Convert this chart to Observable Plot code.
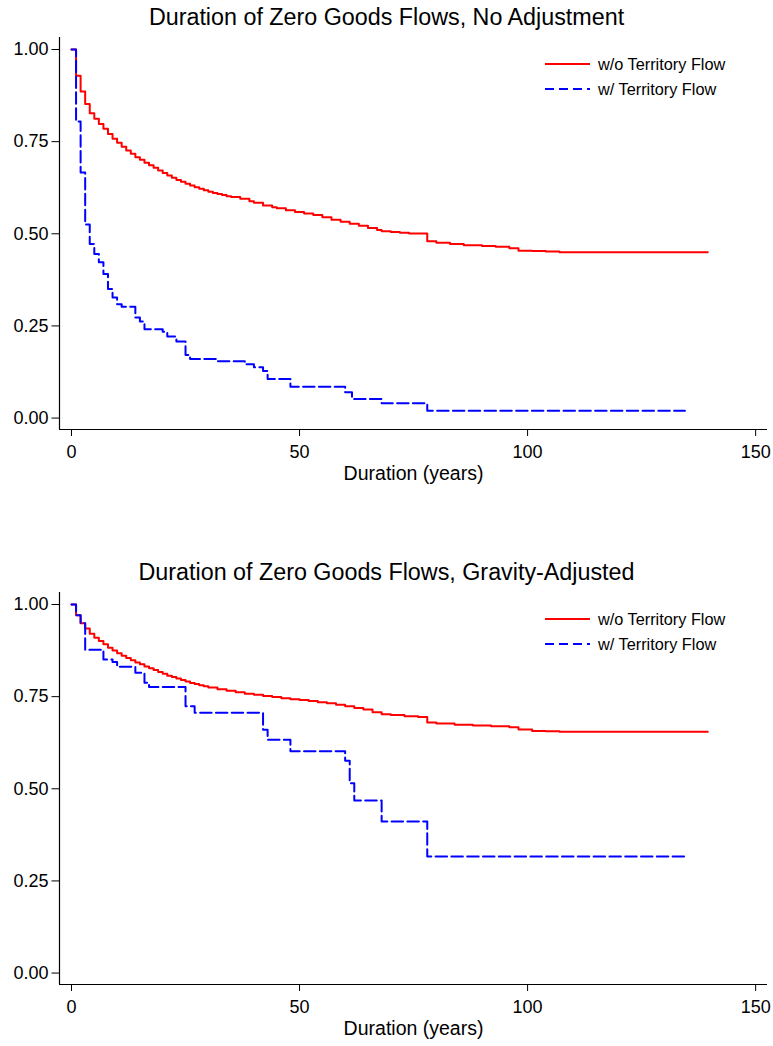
<!DOCTYPE html>
<html>
<head>
<meta charset="utf-8">
<script src="https://cdn.jsdelivr.net/npm/d3@7"></script>
<script src="https://cdn.jsdelivr.net/npm/@observablehq/plot@0.6"></script>
<style>
  body { margin: 0; background: #fff; font-family: "Liberation Sans", Arial, Helvetica, sans-serif; color: #000; }
  .panel { position: relative; width: 773px; height: 555px; overflow: visible; }
  .title { height: 34px; line-height: 34px; font-size: 23.3px; text-align: center; white-space: nowrap; }
  .legend { position: absolute; left: 545px; top: 51.5px; font-size: 16.3px; }
  .legend .row { display: flex; align-items: center; height: 25px; white-space: nowrap; }
  .legend svg { margin-right: 8px; display: block; }
</style>
</head>
<body>
<div id="chart"></div>
<script>
// ---- labels ----
const panelTitles = ["Duration of Zero Goods Flows, No Adjustment", "Duration of Zero Goods Flows, Gravity-Adjusted"];
const seriesNames = ["w/o Territory Flow", "w/ Territory Flow"];
const xLabel = "Duration (years)";
const xTicks = [0, 50, 100, 150];
const yTicks = [0, 0.25, 0.5, 0.75, 1];

// ---- Panel 1: No Adjustment ----
const noAdjWithoutTime = [0,1,2,3,4,5,6,7,8,9,10,11,12,13,14,15,16,17,18,19,20,21,22,23,24,25,26,27,28,29,30,31,32,33,34,35,37,39,40,42,44,45,47,49,51,53,55,57,59,61,63,65,67,68,70,72,74,78,80,83,86,90,93,96,98,101,104,107,139.5];
const noAdjWithoutSurv = [1.000,0.929,0.886,0.852,0.827,0.812,0.798,0.785,0.771,0.758,0.747,0.736,0.726,0.717,0.708,0.701,0.693,0.686,0.679,0.672,0.665,0.658,0.652,0.646,0.641,0.636,0.631,0.626,0.622,0.618,0.614,0.611,0.608,0.605,0.602,0.600,0.595,0.588,0.584,0.577,0.572,0.569,0.564,0.559,0.555,0.551,0.545,0.538,0.533,0.527,0.522,0.516,0.510,0.507,0.505,0.503,0.501,0.480,0.476,0.472,0.469,0.467,0.465,0.461,0.454,0.453,0.452,0.450,0.450];
const noAdjWithTime = [0,1,2,3,4,5,6,7,8,9,10,11,14,15,16,20,21,23,25,26,32,38,40,42,43,48,60,61.5,68,78,134.5];
const noAdjWithSurv = [1.000,0.805,0.666,0.525,0.472,0.445,0.423,0.391,0.350,0.327,0.309,0.302,0.273,0.262,0.241,0.234,0.221,0.208,0.171,0.160,0.154,0.146,0.138,0.128,0.106,0.085,0.070,0.052,0.040,0.020,0.020];

// ---- Panel 2: Gravity-Adjusted ----
const gravWithoutTime = [0,1,2,3,4,5,6,7,8,9,10,11,12,13,14,15,16,17,18,19,20,21,22,23,24,25,26,27,28,29,30,32,34,36,38,40,42,44,46,48,50,52,54,56,58,60,62,64,66,68,70,73,76,78,80,84,88,92,96,98,101,104,107,139.5];
const gravWithoutSurv = [1.000,0.971,0.949,0.935,0.921,0.910,0.901,0.892,0.883,0.875,0.868,0.861,0.855,0.849,0.843,0.838,0.832,0.827,0.822,0.817,0.812,0.807,0.803,0.799,0.795,0.791,0.787,0.784,0.781,0.778,0.775,0.770,0.766,0.762,0.758,0.755,0.752,0.749,0.746,0.743,0.741,0.738,0.735,0.732,0.728,0.724,0.719,0.715,0.708,0.702,0.700,0.697,0.695,0.680,0.677,0.674,0.672,0.670,0.667,0.661,0.657,0.656,0.655,0.655];
const gravWithTime = [0,1,2,3,7,9,10,14,16,17,25,27,42,43,48,60,61,62,68,78,134.5];
const gravWithSurv = [1.000,0.971,0.949,0.877,0.851,0.844,0.831,0.815,0.788,0.776,0.724,0.706,0.660,0.633,0.602,0.576,0.515,0.468,0.411,0.316,0.316];

// ---- layout ----
const xDomain = [-2.63, 152.6];
const yDomain = [-0.031, 1.0326];
const colors = ["#ff0000", "#0000ff"];
const dashes = [null, "11.5,4.3"];
const legendDashes = [null, "9,5"];
const fontFamily = '"Liberation Sans", Arial, Helvetica, sans-serif';

function rows(times, surv) { return times.map((t, i) => ({t, s: surv[i]})); }

function makePanel(title, withoutRows, withRows) {
  const panel = document.createElement("div");
  panel.className = "panel";
  const t = document.createElement("div");
  t.className = "title";
  t.textContent = title;
  panel.appendChild(t);

  const plot = Plot.plot({
    width: 773,
    height: 480,
    marginLeft: 59,
    marginRight: 6,
    marginTop: 3,
    marginBottom: 85,
    style: {fontFamily, fontSize: "18px", color: "#000", background: "#fff", overflow: "visible"},
    x: {domain: xDomain},
    y: {domain: yDomain},
    marks: [
      Plot.axisX({ticks: xTicks, tickSize: 7, tickPadding: 8.5, label: null, fontSize: 18, tickFormat: d3.format("d")}),
      Plot.axisY({ticks: yTicks, tickSize: 7.5, tickPadding: 3.5, label: null, fontSize: 18, tickFormat: d3.format(".2f")}),
      Plot.ruleX([xDomain[0]], {y1: yDomain[0], y2: yDomain[1], stroke: "#000", strokeWidth: 1.2}),
      Plot.ruleY([yDomain[0]], {x1: xDomain[0], x2: xDomain[1], stroke: "#000", strokeWidth: 1.2}),
      Plot.line(withoutRows, {x: "t", y: "s", curve: "step-after", stroke: colors[0], strokeWidth: 2}),
      Plot.line(withRows, {x: "t", y: "s", curve: "step-after", stroke: colors[1], strokeWidth: 2, strokeDasharray: dashes[1]}),
      Plot.text([xLabel], {frameAnchor: "bottom", dy: 50, fontSize: 19.5, fill: "#000"})
    ]
  });
  panel.appendChild(plot);

  const legend = document.createElement("div");
  legend.className = "legend";
  seriesNames.forEach((name, i) => {
    const row = document.createElement("div");
    row.className = "row";
    const ns = "http://www.w3.org/2000/svg";
    const sw = document.createElementNS(ns, "svg");
    sw.setAttribute("width", 45); sw.setAttribute("height", 10);
    const ln = document.createElementNS(ns, "line");
    ln.setAttribute("x1", 0); ln.setAttribute("x2", 45);
    ln.setAttribute("y1", 5); ln.setAttribute("y2", 5);
    ln.setAttribute("stroke", colors[i]); ln.setAttribute("stroke-width", 2);
    if (legendDashes[i]) ln.setAttribute("stroke-dasharray", legendDashes[i]);
    sw.appendChild(ln);
    row.appendChild(sw);
    const span = document.createElement("span");
    span.textContent = name;
    row.appendChild(span);
    legend.appendChild(row);
  });
  panel.appendChild(legend);
  return panel;
}

const root = document.getElementById("chart");
root.appendChild(makePanel(panelTitles[0], rows(noAdjWithoutTime, noAdjWithoutSurv), rows(noAdjWithTime, noAdjWithSurv)));
root.appendChild(makePanel(panelTitles[1], rows(gravWithoutTime, gravWithoutSurv), rows(gravWithTime, gravWithSurv)));
</script>
</body>
</html>
